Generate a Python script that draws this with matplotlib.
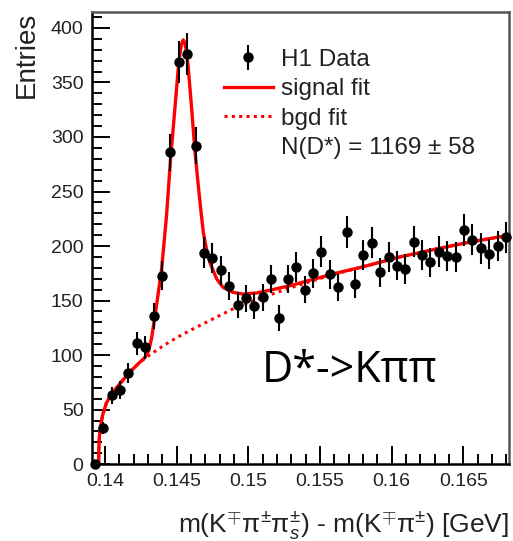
import matplotlib
matplotlib.use("Agg")
import matplotlib.pyplot as plt
from matplotlib.lines import Line2D
from matplotlib.ticker import MultipleLocator, FuncFormatter

plt.rcParams['font.family'] = ['Liberation Sans', 'DejaVu Sans']
plt.rcParams['mathtext.fontset'] = 'custom'
plt.rcParams['mathtext.rm'] = 'Liberation Sans'
plt.rcParams['mathtext.it'] = 'Liberation Sans:italic'

# ----- data: delta-m histogram (bin centres, entries, errors) -----
dm = [0.13930, 0.13989, 0.14047, 0.14106, 0.14164, 0.14223, 0.14281, 0.14340,
      0.14398, 0.14457, 0.14515, 0.14574, 0.14632, 0.14691, 0.14749, 0.14808,
      0.14866, 0.14925, 0.14983, 0.15042, 0.15100, 0.15159, 0.15217, 0.15276,
      0.15334, 0.15393, 0.15451, 0.15510, 0.15568, 0.15627, 0.15685, 0.15744,
      0.15802, 0.15861, 0.15919, 0.15978, 0.16036, 0.16095, 0.16153, 0.16212,
      0.16270, 0.16329, 0.16387, 0.16446, 0.16504, 0.16563, 0.16621, 0.16680,
      0.16738, 0.16797]
entries = [0, 33, 63, 68, 84, 111, 107, 136, 173, 286,
           369, 376, 292, 194, 189, 178, 163, 146, 152, 145,
           153, 170, 134, 170, 181, 160, 175, 195, 174, 162,
           213, 165, 192, 203, 176, 190, 182, 179, 204, 192,
           185, 195, 191, 190, 215, 206, 198, 193, 200, 208]
errors = [0.0, 5.7, 7.9, 8.2, 9.2, 10.5, 10.3, 11.7, 13.2, 16.9,
          19.2, 19.4, 17.1, 13.9, 13.7, 13.3, 12.8, 12.1, 12.3, 12.0,
          12.4, 13.0, 11.6, 13.0, 13.5, 12.6, 13.2, 14.0, 13.2, 12.7,
          14.6, 12.8, 13.9, 14.2, 13.3, 13.8, 13.5, 13.4, 14.3, 13.9,
          13.6, 14.0, 13.8, 13.8, 14.7, 14.4, 14.1, 13.9, 14.1, 14.4]

# ----- fit curves -----
sig_x = [0.13957, 0.13958, 0.13961, 0.13968, 0.13984, 0.14010, 0.14050, 0.14100,
         0.14170, 0.14240, 0.14280, 0.14305, 0.14325, 0.14345, 0.14367, 0.14395,
         0.14430, 0.14458, 0.14488, 0.14511, 0.14522, 0.14534, 0.14546, 0.14558,
         0.14570, 0.14581, 0.14605, 0.14628, 0.14650, 0.14674, 0.14686, 0.14710,
         0.14732, 0.14779, 0.14825, 0.14895, 0.14964, 0.15058, 0.15151, 0.15300,
         0.15592, 0.15800, 0.16057, 0.16300, 0.16522, 0.16817]
sig_y = [0, 14, 24, 33, 45, 56, 65, 73,
         84, 93, 98, 104, 115, 132, 152, 178,
         228, 280, 326, 362, 375, 385, 389, 386,
         377, 364, 326, 287, 257, 227, 213, 196,
         185, 170, 162, 157.5, 156, 157, 159.5, 164,
         174.5, 181, 190, 197, 203, 210]

bgd_x = [0.13957, 0.13958, 0.13961, 0.13968, 0.13984, 0.14010, 0.14050, 0.14100,
         0.14170, 0.14240, 0.14300, 0.14400, 0.14500, 0.14600, 0.14750, 0.14918,
         0.15100, 0.15300, 0.15592, 0.15800, 0.16057, 0.16300, 0.16522, 0.16817]
bgd_y = [0, 14, 24, 33, 45, 56, 65, 73,
         84, 93, 99, 108, 116, 123, 133, 144,
         153, 162, 174, 181, 190, 197, 203, 210]

fig = plt.figure(figsize=(5.13, 5.41), dpi=100)
ax = fig.add_axes([0.179, 0.142, 0.813, 0.836])

ax.plot(bgd_x, bgd_y, color='red', lw=2.2, ls=(0, (1, 1.4)), zorder=2)
ax.plot(sig_x, sig_y, color='red', lw=2.4, zorder=3)
eb = ax.errorbar(dm, entries, yerr=errors, fmt='o', color='black', ms=6.5,
                 elinewidth=1.5, capsize=0, zorder=4)
eb[0].set_clip_on(False)

ax.set_xlim(0.13909, 0.16817)
ax.set_ylim(0, 414.7)

ax.xaxis.set_major_locator(MultipleLocator(0.005))
ax.xaxis.set_minor_locator(MultipleLocator(0.001))
ax.yaxis.set_major_locator(MultipleLocator(50))
ax.yaxis.set_minor_locator(MultipleLocator(10))
ax.xaxis.set_major_formatter(FuncFormatter(lambda v, p: '%g' % round(v, 4)))

ax.tick_params(which='both', direction='in', top=False, right=False,
               width=1.4, labelsize=14, labelcolor='#222222')
ax.tick_params(which='major', length=13, pad=6)
ax.tick_params(which='minor', length=7)

for s in ['left', 'bottom']:
    ax.spines[s].set_linewidth(1.8)
    ax.spines[s].set_color('black')
for s in ['top', 'right']:
    ax.spines[s].set_linewidth(1.8)
    ax.spines[s].set_color('#555555')

ax.set_xlabel('m(K$^{\\mp}$\u03c0$^{\\pm}$\u03c0$^{\\pm}_{s}$) - m(K$^{\\mp}$\u03c0$^{\\pm}$) [GeV]',
              fontsize=19, loc='right', color='#222222', labelpad=14)
ax.set_ylabel('Entries', fontsize=20, loc='top', color='#222222', labelpad=8)

# legend
h_data = ax.errorbar([], [], yerr=[], fmt='o', color='black', ms=6.5, elinewidth=1.5)
h_sig = Line2D([], [], color='red', lw=2.4)
h_bgd = Line2D([], [], color='red', lw=2.2, ls=(0, (1, 1.4)))
h_n = Line2D([], [], alpha=0)
ax.legend([h_data, h_sig, h_bgd, h_n],
          ['H1 Data', 'signal fit', 'bgd fit', 'N(D*) = 1169 \u00b1 58'],
          loc='upper left', bbox_to_anchor=(0.317, 0.918), frameon=False,
          fontsize=17.5, handlelength=2.0, handletextpad=0.35, labelspacing=0.3,
          borderpad=0, borderaxespad=0, labelcolor='#222222')

ax.text(0.619, 0.206, 'D*->K\u03c0\u03c0', transform=ax.transAxes,
        fontsize=31, family=['Open Sans', 'DejaVu Sans'],
        ha='center', va='center', color='black')

fig.savefig('out.png', dpi=100)
